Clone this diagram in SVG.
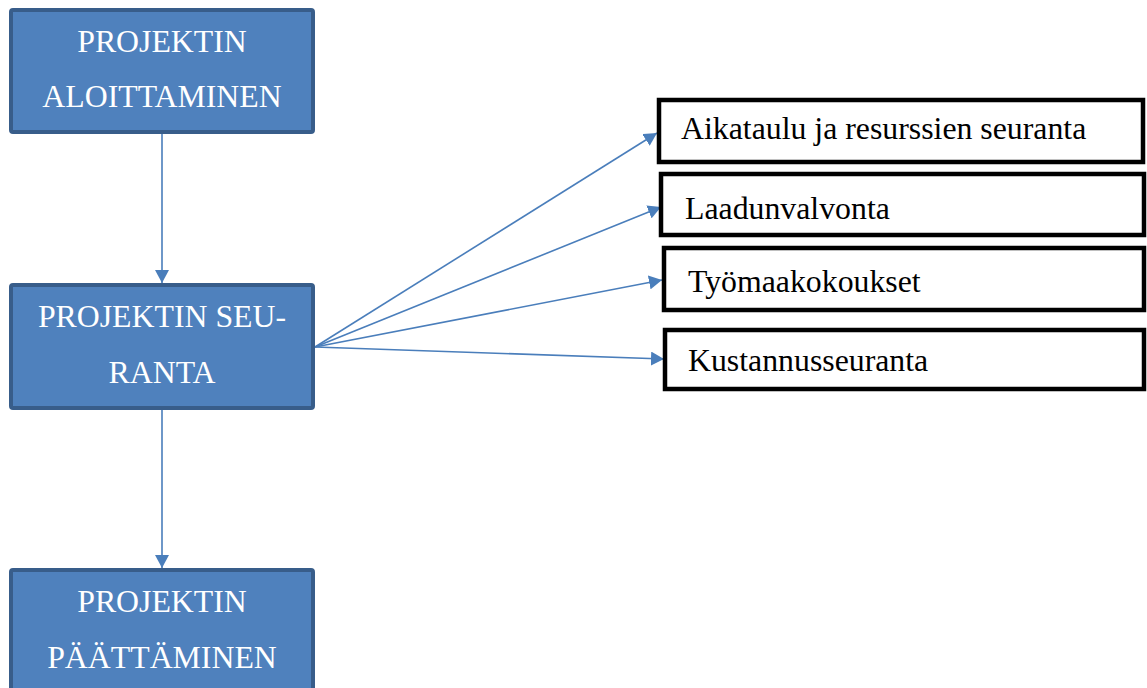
<svg xmlns="http://www.w3.org/2000/svg" width="1147" height="688" viewBox="0 0 1147 688">
<style>
.blue rect{fill:#4F81BD;stroke:#385D8A;stroke-width:4}
.blue text{fill:#FFFFFF;font-family:"Liberation Serif","Times New Roman",serif;font-size:31.8px;text-anchor:middle}
.white rect{fill:#FFFFFF;stroke:#000000;stroke-width:4.5}
.white text{fill:#000000;font-family:"Liberation Serif","Times New Roman",serif;font-size:31.8px}
.conn line{stroke:#4A7EBB;stroke-width:1.6;fill:none}
</style>
<defs>
<marker id="ah" markerUnits="userSpaceOnUse" markerWidth="14" markerHeight="14" refX="13" refY="7" orient="auto">
<path d="M0,0 L13,7 L0,14 Z" fill="#4A7EBB"/>
</marker>
</defs>
<rect width="1147" height="688" fill="#FFFFFF"/>
<g id="connectors" class="conn">
<line x1="162" y1="134" x2="162" y2="283" marker-end="url(#ah)"/>
<line x1="162" y1="410" x2="162" y2="568" marker-end="url(#ah)"/>
<line x1="315" y1="347" x2="657" y2="133" marker-end="url(#ah)"/>
<line x1="315" y1="347" x2="661" y2="207" marker-end="url(#ah)"/>
<line x1="315" y1="347" x2="662" y2="280" marker-end="url(#ah)"/>
<line x1="315" y1="347" x2="664" y2="359" marker-end="url(#ah)"/>
</g>
<g id="node-aloittaminen" class="blue">
<rect x="11" y="10" width="302" height="122" rx="2"/>
<text x="162" y="52">PROJEKTIN</text>
<text x="162" y="107">ALOITTAMINEN</text>
</g>
<g id="node-seuranta" class="blue">
<rect x="11" y="285" width="302" height="123" rx="2"/>
<text x="162" y="327">PROJEKTIN SEU-</text>
<text x="162" y="383">RANTA</text>
</g>
<g id="node-paattaminen" class="blue">
<rect x="11" y="570" width="302" height="130" rx="2"/>
<text x="162" y="612">PROJEKTIN</text>
<text x="162" y="668">PÄÄTTÄMINEN</text>
</g>
<g id="node-aikataulu" class="white">
<rect x="659" y="100" width="484" height="62"/>
<text x="681" y="139">Aikataulu ja resurssien seuranta</text>
</g>
<g id="node-laadunvalvonta" class="white">
<rect x="661" y="174" width="483" height="61"/>
<text x="685" y="219">Laadunvalvonta</text>
</g>
<g id="node-tyomaakokoukset" class="white">
<rect x="664" y="248" width="480" height="62"/>
<text x="688" y="292">Työmaakokoukset</text>
</g>
<g id="node-kustannusseuranta" class="white">
<rect x="665" y="330" width="479" height="59"/>
<text x="688" y="371">Kustannusseuranta</text>
</g>
</svg>
